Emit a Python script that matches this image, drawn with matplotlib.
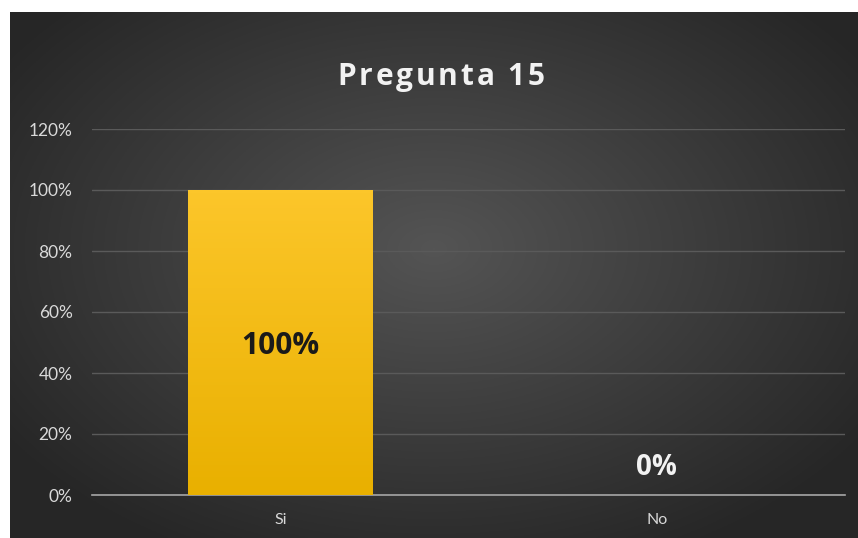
import matplotlib.pyplot as plt
import numpy as np
from matplotlib.colors import LinearSegmentedColormap

categories = ["Si", "No"]
values = [100, 0]
labels = ["100%", "0%"]
yticks = [0, 20, 40, 60, 80, 100, 120]
title = "Pregunta 15"

fig = plt.figure(figsize=(8.58, 5.38), dpi=100)
fig.patch.set_facecolor("white")

# dark radial gradient background
bg = fig.add_axes([10 / 858, 0, 848 / 858, 526 / 538])
bg.set_axis_off()
yy, xx = np.mgrid[0:1:300j, 0:1:500j]
r = np.sqrt(((xx - 0.5) / 0.75) ** 2 + ((yy - 0.45) / 0.8) ** 2)
shade = np.clip(0.33 - 0.22 * r, 0.15, 0.33)
bg.imshow(np.dstack([shade, shade, shade]), aspect="auto", extent=[0, 1, 0, 1])

ax = fig.add_axes([92 / 858, 43 / 538, 753 / 858, 366 / 538])
ax.set_facecolor("none")
x = np.arange(len(categories))
bars = ax.bar(x, values, width=0.49, color="#F2BC00", zorder=3)

# vertical gradient on bars
grad = np.linspace(0, 1, 100).reshape(-1, 1)
cmap = LinearSegmentedColormap.from_list("y", ["#E9B000", "#FCC62A"])
for b in bars:
    if b.get_height() > 0:
        im = ax.imshow(grad, cmap=cmap, aspect="auto", origin="lower",
                       extent=[b.get_x(), b.get_x() + b.get_width(), 0, b.get_height()], zorder=3)
        im.set_clip_path(b)

ax.set_xlim(-0.5, 1.5)
ax.set_ylim(0, 120)
ax.set_yticks(yticks)
ax.set_yticklabels([f"{t}%" for t in yticks], color="#d9d9d9", fontsize=12.5, family="Lato")
ax.set_xticks(x)
ax.set_xticklabels(categories, color="#d9d9d9", fontsize=11.5, family="Lato")
ax.tick_params(length=0)
ax.tick_params(axis="x", pad=13)
ax.tick_params(axis="y", pad=14)
ax.grid(axis="y", color="#5a5a5a", linewidth=1, zorder=0)
for s in ["top", "right", "left"]:
    ax.spines[s].set_visible(False)
ax.spines["bottom"].set_color("#a6a6a6")
ax.spines["bottom"].set_linewidth(1.2)


def spaced_text(cx, cy, s, spacing, **kw):
    # draw text char by char with extra letter spacing (pixels), centred at (cx, cy) in figure px
    r = fig.canvas.get_renderer()
    widths = []
    for ch in s:
        t = fig.text(0, 0, ch if ch != " " else "-", **kw)
        w = t.get_window_extent(renderer=r).width
        if ch == " ":
            w *= 0.8
        widths.append(w)
        t.remove()
    total = sum(widths) + spacing * (len(s) - 1)
    xpos = cx - total / 2
    for ch, w in zip(s, widths):
        if ch != " ":
            fig.text(xpos / 858, cy / 538, ch, ha="left", va="center", **kw)
        xpos += w + spacing


# data labels
ax.text(0, 49, labels[0], ha="center", va="center", fontsize=21.5, fontweight="bold",
        color="#1a1a1a", family="Open Sans", zorder=5)
ax.text(1, 9, labels[1], ha="center", va="center", fontsize=20, fontweight="bold",
        color="#f2f2f2", family="Open Sans", zorder=5)

spaced_text(441, 538 - 77, title, 2.8, fontsize=21.5, fontweight="bold",
            color="#f2f2f2", family="Open Sans")

fig.savefig("out.png", dpi=100, facecolor=fig.get_facecolor())
